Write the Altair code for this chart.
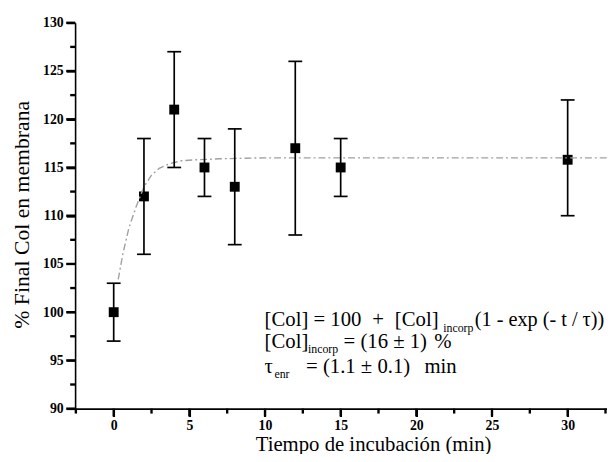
import altair as alt
import pandas as pd

# ---- data ----
time_min = [0, 2, 4, 6, 8, 12, 15, 30]
col_pct = [100, 112, 121, 115, 113, 117, 115, 115.8]
err_low = [97, 106, 115, 112, 107, 108, 112, 110]
err_high = [103, 118, 127, 118, 119, 126, 118, 122]

fit_time = [0.3, 0.6, 1.0, 1.5, 2.0, 2.5, 3.0, 3.7, 4.5, 5.5, 7, 10, 15, 20, 25, 30, 32.6]
fit_pct = [103.4, 106.0, 108.7, 111.0, 113.0, 114.2, 114.9, 115.4, 115.7, 115.8, 115.9,
           116.0, 116.0, 116.0, 116.0, 116.0, 116.0]

x_major = [0, 5, 10, 15, 20, 25, 30]
x_minor = [-2.5, 2.5, 7.5, 12.5, 17.5, 22.5, 27.5, 32.5]
y_major = [90, 95, 100, 105, 110, 115, 120, 125, 130]
y_minor = [92.5, 97.5, 102.5, 107.5, 112.5, 117.5, 122.5, 127.5]

x_title = "Tiempo de incubación  (min)"
y_title = "% Final Col en membrana"

FONT = "Liberation Serif"
PLOT_W, PLOT_H = 539, 391

pts = pd.DataFrame({"t": time_min, "v": col_pct, "lo": err_low, "hi": err_high})
fit = pd.DataFrame({"t": fit_time, "v": fit_pct})

xs = alt.Scale(domain=[-2.55, 32.6], nice=False, zero=False)
ys = alt.Scale(domain=[90, 130], nice=False, zero=False)

x_axis = alt.Axis(
    values=x_major, orient="bottom", tickSize=8, labelPadding=2,
    labelFont=FONT, labelFontSize=14, labelFontWeight="bold", labelColor="black",
    labelFlush=False, grid=False, ticks=True, tickColor="#000000", tickWidth=2,
    domainColor="#000000", domainWidth=1.6,
    title=x_title, titleFont=FONT, titleFontSize=21, titleFontWeight="normal",
    titleColor="black", titleX=302, titleY=42, titleAlign="center",
    titleBaseline="alphabetic",
)
y_axis = alt.Axis(
    values=y_major, orient="left", tickSize=9, labelPadding=3,
    labelFont=FONT, labelFontSize=14, labelFontWeight="bold", labelColor="black",
    labelFlush=False, grid=False, ticks=True, tickColor="#000000", tickWidth=2,
    domainColor="#000000", domainWidth=1.6,
    title=y_title, titleFont=FONT, titleFontSize=22, titleFontWeight="normal",
    titleColor="black", titleX=-54, titleY=194, titleAlign="center",
    titleBaseline="middle", titleAngle=-90,
)


def X(field):
    return alt.X(field, scale=xs, axis=x_axis)


def Y(field):
    return alt.Y(field, scale=ys, axis=y_axis)


squares = alt.Chart(pts).mark_square(size=100, color="black", opacity=1).encode(
    x=X("t:Q"), y=Y("v:Q"),
)

fit_line = alt.Chart(fit).mark_line(
    color="#a0a0a0", strokeWidth=1.4, strokeDash=[7, 3, 2, 3]
).encode(x=X("t:Q"), y=Y("v:Q"))

bars = alt.Chart(pts).mark_rule(color="black", strokeWidth=1.7).encode(
    x=X("t:Q"), y=Y("lo:Q"), y2="hi:Q",
)
cap_lo = alt.Chart(pts).mark_tick(
    orient="horizontal", size=14, thickness=1.7, color="black", opacity=1
).encode(x=X("t:Q"), y=Y("lo:Q"))
cap_hi = alt.Chart(pts).mark_tick(
    orient="horizontal", size=14, thickness=1.7, color="black", opacity=1
).encode(x=X("t:Q"), y=Y("hi:Q"))

# tick marks along the axes (drawn explicitly, heavier)
xt_major = alt.Chart(pd.DataFrame({"tick": x_major})).mark_rule(
    color="black", strokeWidth=2.4, opacity=1
).encode(x=X("tick:Q"), y=alt.value(PLOT_H), y2=alt.value(PLOT_H + 8))
xt_minor = alt.Chart(pd.DataFrame({"tick": x_minor})).mark_rule(
    color="black", strokeWidth=2.4, opacity=1
).encode(x=X("tick:Q"), y=alt.value(PLOT_H), y2=alt.value(PLOT_H + 5))
yt_major = alt.Chart(pd.DataFrame({"tick": y_major})).mark_rule(
    color="black", strokeWidth=2.4, opacity=1
).encode(y=Y("tick:Q"), x=alt.value(0), x2=alt.value(-9))
yt_minor = alt.Chart(pd.DataFrame({"tick": y_minor})).mark_rule(
    color="black", strokeWidth=2.4, opacity=1
).encode(y=Y("tick:Q"), x=alt.value(0), x2=alt.value(-5))

one = pd.DataFrame({"k": [0]})


def label(text, x, y, size):
    return alt.Chart(one).mark_text(
        align="left", baseline="middle", font=FONT, fontSize=size, color="black"
    ).encode(x=alt.value(x), y=alt.value(y), text=alt.value(text))


notes = [
    label("[Col] = 100", 192, 301, 21),
    label("+", 301, 301, 21),
    label("[Col]", 324, 301, 21),
    label("incorp", 373, 309, 12),
    label("(1 - exp (- t / τ))", 405, 301, 20.5),
    label("[Col]", 192, 324, 21),
    label("incorp", 236, 331, 12),
    label("= (16 ± 1)", 272, 324, 21),
    label("%", 364, 324, 21),
    label("τ", 192, 349, 21),
    label("enr", 202, 356, 12),
    label("= (1.1 ± 0.1)", 234, 349, 21),
    label("min", 354, 349, 21),
]

chart = alt.layer(
    squares, fit_line, bars, cap_lo, cap_hi,
    xt_major, xt_minor, yt_major, yt_minor, *notes
).properties(
    width=PLOT_W, height=PLOT_H,
    padding={"left": 68, "top": 12, "right": 0, "bottom": 43},
    autosize=alt.AutoSizeParams(type="none"),
    background="white",
).configure_view(stroke=None)

chart.save("out.html", embed_options={"renderer": "svg", "actions": False})
